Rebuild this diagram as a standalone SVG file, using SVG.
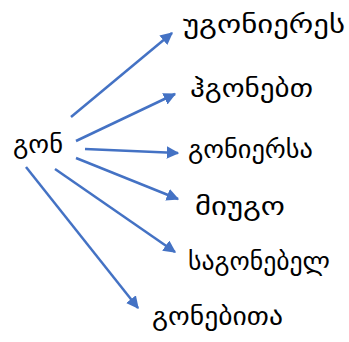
<svg xmlns="http://www.w3.org/2000/svg" width="349" height="342" viewBox="0 0 349 342">
  <style>
    .lbl { font-family: "DejaVu Sans", "Noto Sans", sans-serif; font-size: 26px; fill: #000; }
    .arrow { stroke: #4472C4; stroke-width: 2.5; fill: none; marker-end: url(#head); }
  </style>
  <defs>
    <marker id="head" viewBox="0 0 10 10" refX="9" refY="5" markerWidth="5" markerHeight="5" orient="auto" markerUnits="strokeWidth">
      <path d="M0,0 L10,5 L0,10 z" fill="#4472C4"/>
    </marker>
  </defs>
  <rect width="349" height="342" fill="#fff"/>
  <g id="connectors">
    <line class="arrow" x1="71" y1="117" x2="172" y2="33"/>
    <line class="arrow" x1="76" y1="141" x2="175" y2="94"/>
    <line class="arrow" x1="85" y1="149" x2="178" y2="153"/>
    <line class="arrow" x1="76" y1="158" x2="178" y2="199"/>
    <line class="arrow" x1="55" y1="169" x2="175" y2="252"/>
    <line class="arrow" x1="26" y1="167" x2="138" y2="308"/>
  </g>
  <g id="root"><text class="lbl" x="13" y="153" textLength="50" lengthAdjust="spacingAndGlyphs">გონ</text></g>
  <g id="w1"><text class="lbl" x="183" y="33" textLength="162" lengthAdjust="spacingAndGlyphs">უგონიერეს</text></g>
  <g id="w2"><text class="lbl" x="190" y="97" textLength="123" lengthAdjust="spacingAndGlyphs">ჰგონებთ</text></g>
  <g id="w3"><text class="lbl" x="188" y="158" textLength="125" lengthAdjust="spacingAndGlyphs">გონიერსა</text></g>
  <g id="w4"><text class="lbl" x="195" y="215" textLength="90" lengthAdjust="spacingAndGlyphs">მიუგო</text></g>
  <g id="w5"><text class="lbl" x="188" y="270" textLength="142" lengthAdjust="spacingAndGlyphs">საგონებელ</text></g>
  <g id="w6"><text class="lbl" x="152" y="325" textLength="131" lengthAdjust="spacingAndGlyphs">გონებითა</text></g>
</svg>
